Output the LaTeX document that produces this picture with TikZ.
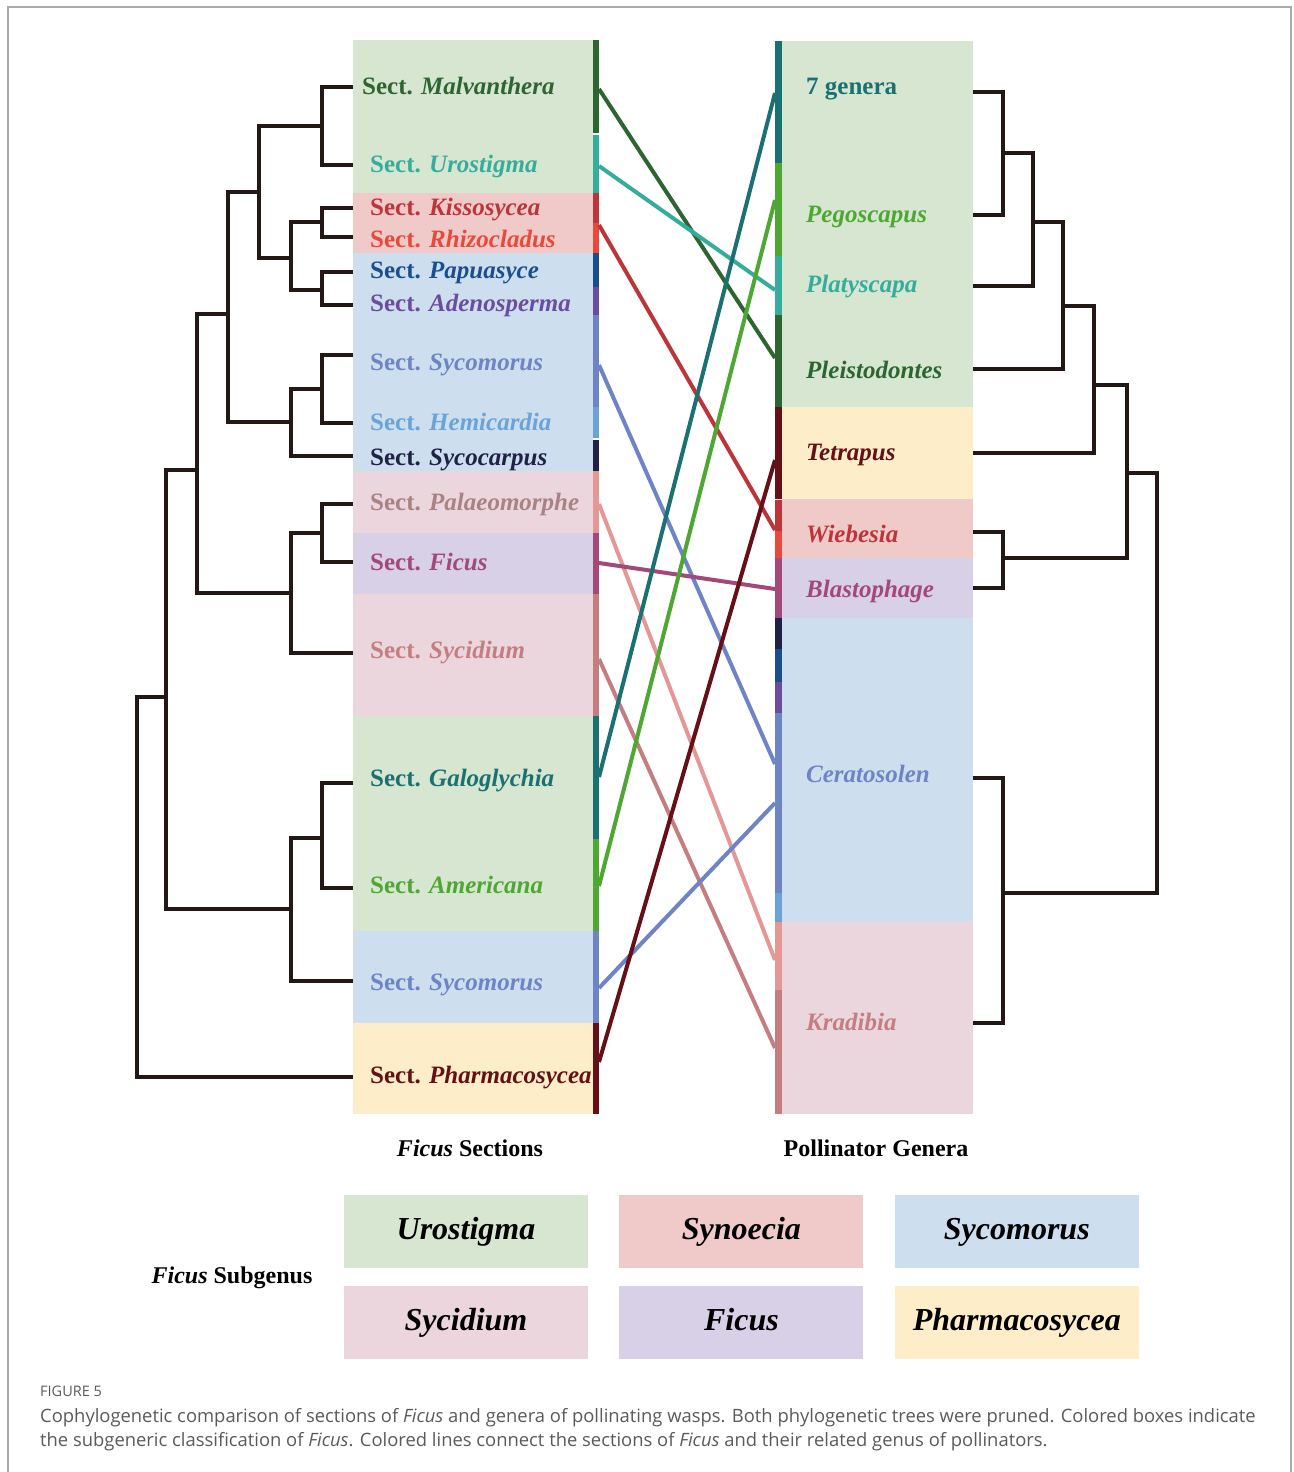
\documentclass[tikz,border=0pt]{standalone}
\usepackage{fontspec}
\setmainfont{Liberation Serif}
\newfontfamily\capfont{Open Sans}
\usepackage{tikz}
\usetikzlibrary{positioning}
% subgenus fills
\definecolor{bgUro}{HTML}{D6E6D1}
\definecolor{bgSyn}{HTML}{F0C9C9}
\definecolor{bgSyc}{HTML}{CDDFEF}
\definecolor{bgSyd}{HTML}{ECD6DE}
\definecolor{bgFic}{HTML}{D8D0E6}
\definecolor{bgPha}{HTML}{FDEEC9}
% section colours
\definecolor{cMalv}{HTML}{2D6531}
\definecolor{cUro}{HTML}{35AD9C}
\definecolor{cKiss}{HTML}{BC3539}
\definecolor{cRhiz}{HTML}{E8493B}
\definecolor{cPapu}{HTML}{1B4F8C}
\definecolor{cAden}{HTML}{6B4C9F}
\definecolor{cSyco}{HTML}{6D84C5}
\definecolor{cHemi}{HTML}{6BA3D8}
\definecolor{cSycc}{HTML}{1F2244}
\definecolor{cPala}{HTML}{E39896}
\definecolor{tPala}{HTML}{A98282}
\definecolor{cFic}{HTML}{A3497A}
\definecolor{cSyd}{HTML}{C47E80}
\definecolor{cGalo}{HTML}{1B7072}
\definecolor{cAmer}{HTML}{4EA733}
\definecolor{cPha}{HTML}{650F16}
\definecolor{treeblk}{HTML}{231815}
\definecolor{framegray}{HTML}{AAAAAA}
\definecolor{capgray}{HTML}{5A5A5A}
\tikzset{
  tree/.style={line width=3.5pt, draw=treeblk, line join=miter},
  link/.style={line width=4pt},
  sect/.style={anchor=base west, inner sep=0pt,
    font=\fontsize{25}{30}\selectfont\bfseries},
  genus/.style={sect, font=\fontsize{25}{30}\selectfont\bfseries\itshape},
  axislbl/.style={anchor=base, inner sep=0pt,
    font=\fontsize{24}{28}\selectfont\bfseries},
  legbox/.style={minimum width=244pt, minimum height=73pt, inner sep=0pt,
    text height=22pt, text depth=7pt,
    font=\fontsize{32}{36}\selectfont\bfseries\itshape},
  captxt/.style={anchor=base west, inner sep=0pt, text=capgray,
    font=\capfont\fontsize{18.4}{24}\selectfont}
}
\begin{document}
\begin{tikzpicture}[x=1pt, y=-1pt]
  \useasboundingbox (0,0) rectangle (1293,1472);
  \draw[framegray, line width=1.5pt] (8,1472) -- (8,7) -- (1291,7) -- (1291,1472);

  % left boxes
  \foreach \ya/\yb/\col in {40/193/bgUro, 193/253/bgSyn, 253/471/bgSyc,
      471/533/bgSyd, 533/594/bgFic, 594/716/bgSyd, 716/931/bgUro,
      931/1023/bgSyc, 1023/1114/bgPha}
    \fill[\col] (353,\ya) rectangle (593,\yb);
  % right boxes
  \foreach \ya/\yb/\col in {41/407/bgUro, 407/499/bgPha, 499/558/bgSyn,
      558/618/bgFic, 618/922/bgSyc, 922/1114/bgSyd}
    \fill[\col] (782,\ya) rectangle (973,\yb);

  % colour bars
  \foreach \ya/\yb/\col in {40/133/cMalv, 135/193/cUro, 193/223/cKiss,
      223/253/cRhiz, 253/287/cPapu, 287/315/cAden, 315/407/cSyco,
      407/438/cHemi, 440/471/cSycc, 471/533/cPala, 533/594/cFic,
      594/716/cSyd, 716/839/cGalo, 839/931/cAmer, 931/1023/cSyco,
      1023/1114/cPha}
    \fill[\col] (593,\ya) rectangle (599,\yb);
  \foreach \ya/\yb/\col in {41/163/cGalo, 163/256/cAmer, 256/315/cUro,
      315/407/cMalv, 407/499/cPha, 500/531/cKiss, 531/558/cRhiz,
      558/618/cFic, 618/649/cSycc, 649/682/cPapu, 682/713/cAden,
      713/893/cSyco, 893/922/cHemi, 922/990/cPala, 990/1114/cSyd}
    \fill[\col] (775,\ya) rectangle (782,\yb);

  % section labels
  \node[sect, text=cMalv] (malv)  at (362,95)   {Sect. \textit{Malvanthera}};
  \node[sect, text=cUro]  (uro)   at (370,172)  {Sect. \textit{Urostigma}};
  \node[sect, text=cKiss] (kiss)  at (370,215)  {Sect. \textit{Kissosycea}};
  \node[sect, text=cRhiz] (rhiz)  at (370,247)  {Sect. \textit{Rhizocladus}};
  \node[sect, text=cPapu] (papu)  at (370,278)  {Sect. \textit{Papuasyce}};
  \node[sect, text=cAden] (aden)  at (370,311)  {Sect. \textit{Adenosperma}};
  \node[sect, text=cSyco] (syco)  at (370,370)  {Sect. \textit{Sycomorus}};
  \node[sect, text=cHemi] (hemi)  at (370,430)  {Sect. \textit{Hemicardia}};
  \node[sect, text=cSycc] (sycc)  at (370,465)  {Sect. \textit{Sycocarpus}};
  \node[sect, text=tPala] (pala)  at (370,510)  {Sect. \textit{Palaeomorphe}};
  \node[sect, text=cFic]  (fic)   at (370,570)  {Sect. \textit{Ficus}};
  \node[sect, text=cSyd]  (syd)   at (370,658)  {Sect. \textit{Sycidium}};
  \node[sect, text=cGalo] (galo)  at (370,786)  {Sect. \textit{Galoglychia}};
  \node[sect, text=cAmer] (amer)  at (370,893)  {Sect. \textit{Americana}};
  \node[sect, text=cSyco] (syco2) at (370,990)  {Sect. \textit{Sycomorus}};
  \node[sect, text=cPha]  (pha)   at (370,1083) {Sect. \textit{Pharmacosycea}};

  % genus labels
  \node[sect,  text=cGalo] (gen7)  at (806,95)   {7 genera};
  \node[genus, text=cAmer] (pego)  at (806,222)  {Pegoscapus};
  \node[genus, text=cUro]  (platy) at (806,292)  {Platyscapa};
  \node[genus, text=cMalv] (pleis) at (806,378)  {Pleistodontes};
  \node[genus, text=cPha]  (tetra) at (806,460)  {Tetrapus};
  \node[genus, text=cKiss] (wieb)  at (806,542)  {Wiebesia};
  \node[genus, text=cFic]  (blast) at (806,597)  {Blastophage};
  \node[genus, text=cSyco] (cera)  at (806,782)  {Ceratosolen};
  \node[genus, text=cSyd]  (krad)  at (806,1030) {Kradibia};

  % left tree
  \coordinate (tMalv) at (353,87);   \coordinate (tUro) at (353,165);
  \coordinate (tKiss) at (353,208);  \coordinate (tRhiz) at (353,237);
  \coordinate (tPapu) at (353,272);  \coordinate (tAden) at (353,305);
  \coordinate (tSyco) at (353,355);  \coordinate (tHemi) at (353,423);
  \coordinate (tSycc) at (353,456);  \coordinate (tPala) at (353,504);
  \coordinate (tFic)  at (353,562);  \coordinate (tSyd)  at (353,653);
  \coordinate (tGalo) at (353,783);  \coordinate (tAmer) at (353,888);
  \coordinate (tSyco2) at (353,981); \coordinate (tPha)  at (353,1077);
  \coordinate (a1) at (322,126);  \coordinate (a2) at (322,222);
  \coordinate (a3) at (322,290);  \coordinate (a4) at (291,258);
  \coordinate (a5) at (259,192);  \coordinate (a6) at (322,389);
  \coordinate (a7) at (291,422);  \coordinate (a8) at (228,314);
  \coordinate (a9) at (322,533);  \coordinate (a10) at (291,593);
  \coordinate (a11) at (197,470); \coordinate (a12) at (322,838);
  \coordinate (a13) at (291,909); \coordinate (a14) at (166,697);
  \coordinate (a15) at (137,697);
  \draw[tree] (tMalv) -| (a1) |- (tUro);
  \draw[tree] (tKiss) -| (a2) |- (tRhiz);
  \draw[tree] (tPapu) -| (a3) |- (tAden);
  \draw[tree] (a2) -| (a4) |- (a3);
  \draw[tree] (a1) -| (a5) |- (a4);
  \draw[tree] (tSyco) -| (a6) |- (tHemi);
  \draw[tree] (a6) -| (a7) |- (tSycc);
  \draw[tree] (a5) -| (a8) |- (a7);
  \draw[tree] (tPala) -| (a9) |- (tFic);
  \draw[tree] (a9) -| (a10) |- (tSyd);
  \draw[tree] (a8) -| (a11) |- (a10);
  \draw[tree] (tGalo) -| (a12) |- (tAmer);
  \draw[tree] (a12) -| (a13) |- (tSyco2);
  \draw[tree] (a11) -| (a14) |- (a13);
  \draw[tree] (a14) -- (a15) |- (tPha);

  % right tree
  \coordinate (tGen7)  at (973,92);   \coordinate (tPego)  at (973,215);
  \coordinate (tPlaty) at (973,286);  \coordinate (tPleis) at (973,369);
  \coordinate (tTetra) at (973,453);  \coordinate (tWieb)  at (973,532);
  \coordinate (tBlast) at (973,588);  \coordinate (tCera)  at (973,778);
  \coordinate (tKrad)  at (973,1023);
  \coordinate (b1) at (1003,153); \coordinate (b2) at (1033,222);
  \coordinate (b3) at (1063,306); \coordinate (b4) at (1094,385);
  \coordinate (b5) at (1003,558); \coordinate (b6) at (1127,473);
  \coordinate (b7) at (1003,893); \coordinate (b8) at (1157,473);
  \draw[tree] (tGen7) -| (b1) |- (tPego);
  \draw[tree] (b1) -| (b2) |- (tPlaty);
  \draw[tree] (b2) -| (b3) |- (tPleis);
  \draw[tree] (b3) -| (b4) |- (tTetra);
  \draw[tree] (tWieb) -| (b5) |- (tBlast);
  \draw[tree] (b4) -| (b6) |- (b5);
  \draw[tree] (tCera) -| (b7) |- (tKrad);
  \draw[tree] (b6) -- (b8) |- (b7);

  % associations
  \coordinate (sMalv)  at (599,89);   \coordinate (pPleis) at (775,358);
  \coordinate (sUro)   at (599,166);  \coordinate (pPlaty) at (775,290);
  \coordinate (sKiss)  at (599,225);  \coordinate (pWieb)  at (775,530);
  \coordinate (sSyco)  at (599,365);  \coordinate (pCera)  at (775,764);
  \coordinate (sPala)  at (599,504);  \coordinate (pKrad)  at (775,960);
  \coordinate (sFic)   at (599,563);  \coordinate (pBlast) at (775,589);
  \coordinate (sSyd)   at (599,659);  \coordinate (pKrad2) at (775,1048);
  \coordinate (sGalo)  at (599,777);  \coordinate (pGen7)  at (775,93);
  \coordinate (sAmer)  at (599,886);  \coordinate (pPego)  at (775,200);
  \coordinate (sSyco2) at (599,988);  \coordinate (pCera2) at (775,803);
  \coordinate (sPha)   at (599,1062); \coordinate (pTetra) at (775,460);
  \draw[link, cMalv] (sMalv) -- (pPleis);
  \draw[link, cUro]  (sUro)  -- (pPlaty);
  \draw[link, cKiss] (sKiss) -- (pWieb);
  \draw[link, cSyco] (sSyco) -- (pCera);
  \draw[link, cPala] (sPala) -- (pKrad);
  \draw[link, cFic]  (sFic)  -- (pBlast);
  \draw[link, cSyd]  (sSyd)  -- (pKrad2);
  \draw[link, cGalo] (sGalo) -- (pGen7);
  \draw[link, cAmer] (sAmer) -- (pPego);
  \draw[link, cSyco] (sSyco2) -- (pCera2);
  \draw[link, cPha]  (sPha)  -- (pTetra);

  % axis titles
  \node[axislbl] (secttitle) at (470,1156) {\textit{Ficus} Sections};
  \node[axislbl] (gentitle)  at (876,1156) {Pollinator Genera};

  % legend
  \node[legbox, fill=bgUro] (lgUro) at (466,1231.5) {Urostigma};
  \node[legbox, fill=bgSyn, right=31pt of lgUro] (lgSyn) {Synoecia};
  \node[legbox, fill=bgSyc, right=31pt of lgSyn] (lgSyc) {Sycomorus};
  \node[legbox, fill=bgSyd, below=18pt of lgUro] (lgSyd) {Sycidium};
  \node[legbox, fill=bgFic, right=31pt of lgSyd] (lgFic) {Ficus};
  \node[legbox, fill=bgPha, right=31pt of lgFic] (lgPha) {Pharmacosycea};
  \node[axislbl, anchor=center] (subg) at (232,1278) {\textit{Ficus} Subgenus};

  % caption
  \node[captxt, font=\capfont\fontsize{14.5}{16}\selectfont] (fig) at (40,1396) {FIGURE 5};
  \node[captxt] (cap1) at (40,1422)
    {Cophylogenetic comparison of sections of \textit{Ficus} and genera of pollinating wasps. Both phylogenetic trees were pruned. Colored boxes indicate};
  \node[captxt] (cap2) at (40,1446)
    {the subgeneric classification of \textit{Ficus}. Colored lines connect the sections of \textit{Ficus} and their related genus of pollinators.};
\end{tikzpicture}
\end{document}
